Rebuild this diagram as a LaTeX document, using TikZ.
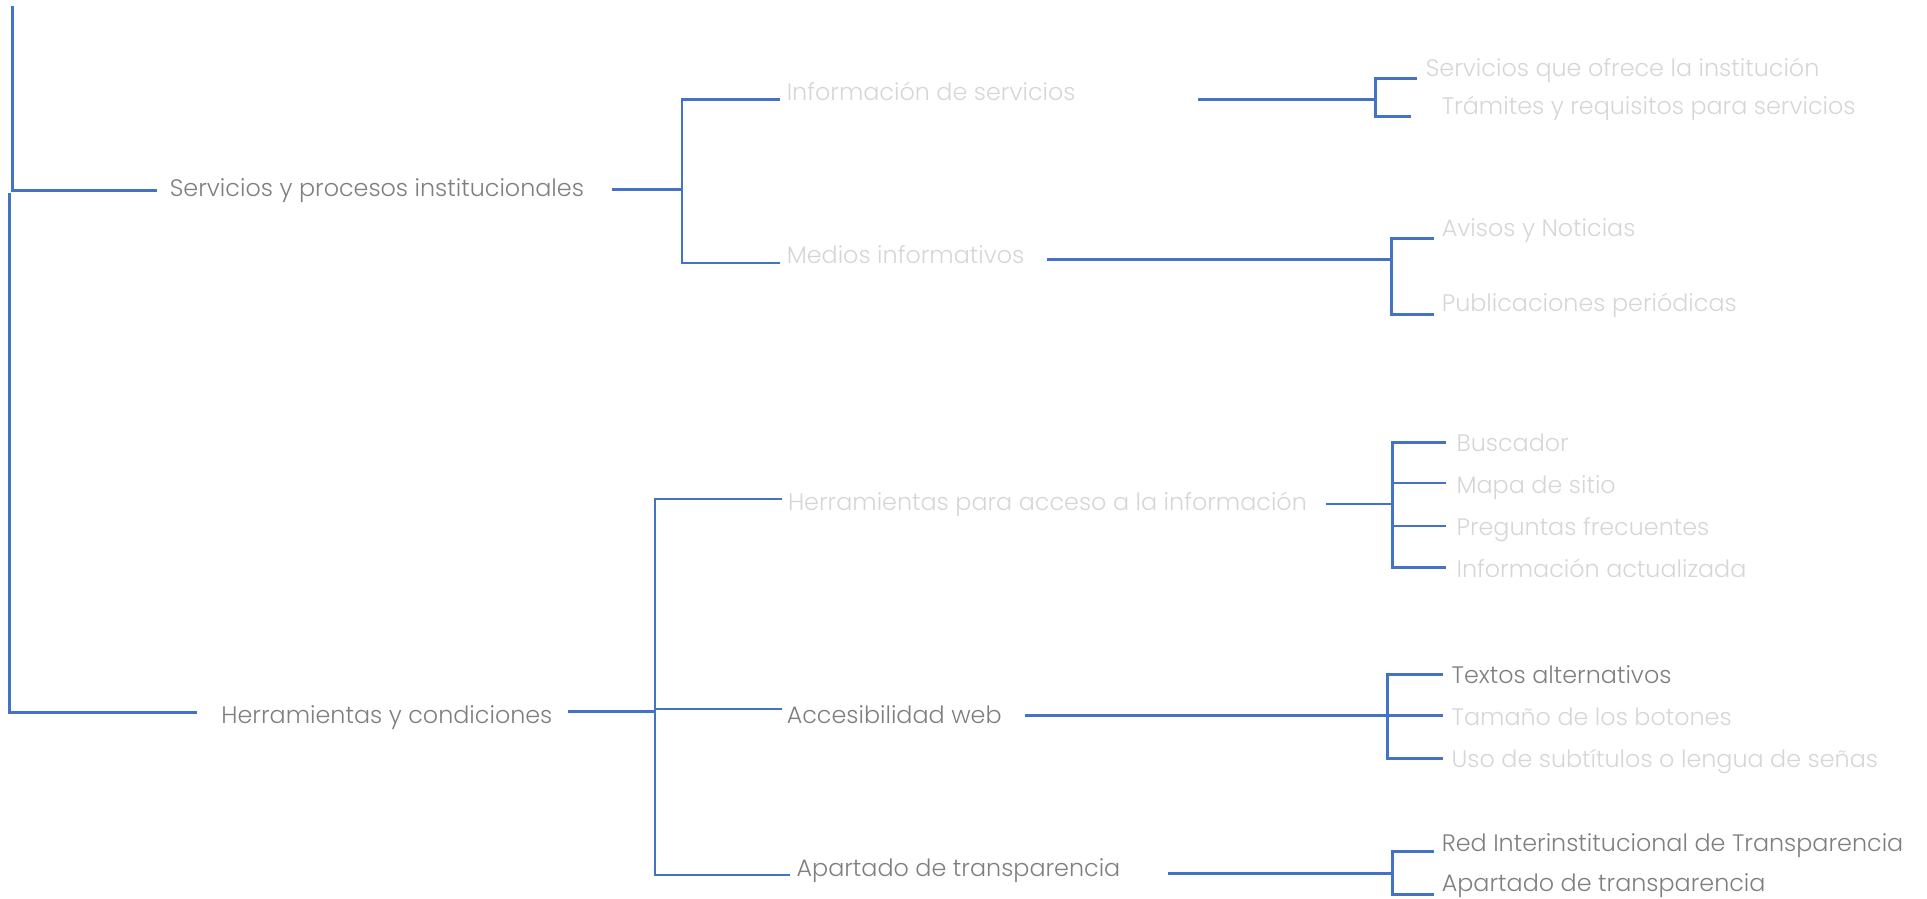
\documentclass[tikz,border=0pt]{standalone}
\usepackage{fontspec}
\setmainfont{Poppins}[UprightFont={* Light}]
\definecolor{linkblue}{HTML}{4472C4}
\definecolor{darkgray}{HTML}{7F7F7F}
\definecolor{lightgray}{HTML}{D6D6D6}
\tikzset{
  conn/.style={draw=linkblue, line width=2.2pt, line cap=butt, line join=miter},
  lbl/.style={anchor=west, inner sep=0pt, text height=0.7em, text depth=0pt, font=\fontsize{19.4}{22}\selectfont},
  strong/.style={lbl, text=darkgray},
  faint/.style={lbl, text=lightgray}
}
\begin{document}
\begin{tikzpicture}[x=1pt,y=-1pt]
\path[use as bounding box] (0,0) rectangle (1568,731);

% ---- text ----
\node[strong] (svc)  at (138,156) {Servicios y procesos institucionales};
\node[strong] (herr) at (180,585) {Herramientas y condiciones};

\node[faint]  (info) at (640,78)  {Información de servicios};
\node[faint]  (med)  at (640,211) {Medios informativos};

\node[faint]  (acc)  at (641,412) {Herramientas para acceso a la información};
\node[strong] (web)  at (640,585) {Accesibilidad web};
\node[strong] (apa)  at (648,710) {Apartado de transparencia};

\node[faint]  (s1) at (1160,59)  {Servicios que ofrece la institución};
\node[faint]  (s2) at (1173,90)  {Trámites y requisitos para servicios};
\node[faint]  (m1) at (1173,189) {Avisos y Noticias};
\node[faint]  (m2) at (1173,250) {Publicaciones periódicas};

\node[faint]  (a1) at (1185,364) {Buscador};
\node[faint]  (a2) at (1185,398) {Mapa de sitio};
\node[faint]  (a3) at (1185,432) {Preguntas frecuentes};
\node[faint]  (a4) at (1185,466) {Información actualizada};

\node[strong] (w1) at (1181,553) {Textos alternativos};
\node[faint]  (w2) at (1181,587) {Tamaño de los botones};
\node[faint]  (w3) at (1181,621) {Uso de subtítulos o lengua de señas};

\node[strong] (t1) at (1173,689) {Red Interinstitucional de Transparencia};
\node[strong] (t2) at (1173,722) {Apartado de transparencia};

% ---- junction points ----
\coordinate (rootTop) at (10,5);
\coordinate (rootA)   at (10,155);
\coordinate (rootB)   at (8,157);
\coordinate (rootC)   at (8,580);

\coordinate (svcOut) at (498,154);
\coordinate (svcJ)   at (555,154);

\coordinate (infoOut) at (975,81);
\coordinate (infoJ)   at (1119,81);
\coordinate (medOut)  at (852,211);
\coordinate (medJ)    at (1132,211);

\coordinate (herrOut) at (462,579);
\coordinate (herrJ)   at (533,579);

\coordinate (accOut) at (1079,410);
\coordinate (accJ)   at (1133,410);
\coordinate (webOut) at (834,582);
\coordinate (webJ)   at (1129,582);
\coordinate (apaOut) at (950,711);
\coordinate (apaJ)   at (1133,711);

% ---- root bracket ----
\draw[conn] (rootTop) -- (rootA) -- ([xshift=-10pt]svc.west |- rootA);
\draw[conn] (rootB) -- (rootC) -- ([xshift=-20pt]herr.west |- rootC);

% ---- first branch ----
\draw[conn] (svcOut) -- (svcJ);
\draw[conn] (svcJ) |- ([xshift=-5pt]info.west |- infoOut);
\draw[conn] (svcJ) |- ([xshift=-5pt]med.west |- 0,214);

\draw[conn] (infoOut) -- (infoJ);
\draw[conn] (infoJ) |- ([xshift=-7pt]s1.west |- 0,64);
\draw[conn] (infoJ) |- ([xshift=-25pt]s2.west |- 0,95);

\draw[conn] (medOut) -- (medJ);
\draw[conn] (medJ) |- ([xshift=-6pt]m1.west |- 0,194);
\draw[conn] (medJ) |- ([xshift=-6pt]m2.west |- 0,256);

% ---- second branch ----
\draw[conn] (herrOut) -- (herrJ);
\draw[conn] (herrJ) |- ([xshift=-5pt]acc.west |- 0,406);
\draw[conn] (herrJ) |- ([xshift=-4pt]web.west |- 0,577);
\draw[conn] (herrJ) |- ([xshift=-5pt]apa.west |- 0,712);

\draw[conn] (accOut) -- (accJ);
\draw[conn] (accJ) |- ([xshift=-8pt]a1.west |- 0,360);
\draw[conn] (accJ) |- ([xshift=-8pt]a4.west |- 0,462);
\draw[conn] (accJ |- 0,393) -- ([xshift=-8pt]a2.west |- 0,393);
\draw[conn] (accJ |- 0,428) -- ([xshift=-8pt]a3.west |- 0,428);

\draw[conn] (webOut) -- ([xshift=-7pt]w2.west |- webOut);
\draw[conn] (webJ) |- ([xshift=-7pt]w1.west |- 0,549);
\draw[conn] (webJ) |- ([xshift=-7pt]w3.west |- 0,617);

\draw[conn] (apaOut) -- (apaJ);
\draw[conn] (apaJ) |- ([xshift=-6pt]t1.west |- 0,693);
\draw[conn] (apaJ) |- ([xshift=-6pt]t2.west |- 0,728);
\end{tikzpicture}
\end{document}
